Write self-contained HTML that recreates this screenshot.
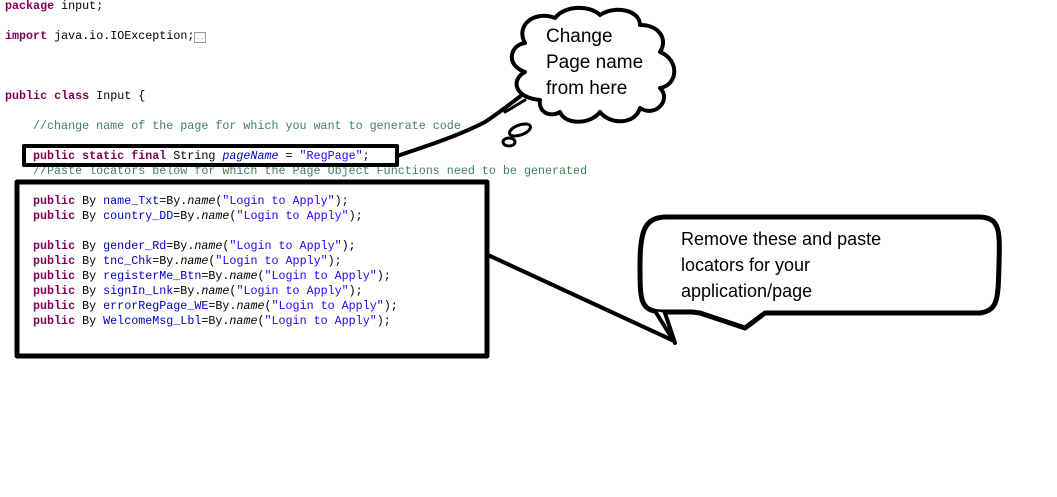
<!DOCTYPE html>
<html><head><meta charset="utf-8"><style>
body{margin:0;width:1057px;height:497px;background:#fff;overflow:hidden;position:relative}
.c{position:absolute;font-family:"Liberation Mono",monospace;font-size:11.7px;white-space:pre;line-height:15px;color:#000}
.k{color:#7f0055;font-weight:bold}.s{color:#2a00ff}.f{color:#0000c0}.i{font-style:italic}.cm{color:#3f7f5f}
.t{position:absolute;font-family:"Liberation Sans",sans-serif;font-size:18px;line-height:26px;color:#000}
</style></head><body>
<div class="c" style="left:5px;top:-1px"><span class="k">package</span> input;</div>
<div class="c" style="left:5px;top:29px"><span class="k">import</span> java.io.IOException;<span style="border:1px solid #999;color:#999;font-size:8px">..</span></div>
<div class="c" style="left:5px;top:89px"><span class="k">public class</span> Input {</div>
<div class="c cm" style="left:33px;top:119px">//change name of the page for which you want to generate code</div>
<div class="c" style="left:33px;top:149px"><span class="k">public static final</span> String <span class="f i">pageName</span> = <span class="s">"RegPage"</span>;</div>
<div class="c cm" style="left:33px;top:164px">//Paste locators below for which the Page Object Functions need to be generated</div>
<div class="c" style="left:33px;top:194px"><span class="k">public</span> By <span class="f">name_Txt</span>=By.<span class="i">name</span>(<span class="s">"Login to Apply"</span>);
<span class="k">public</span> By <span class="f">country_DD</span>=By.<span class="i">name</span>(<span class="s">"Login to Apply"</span>);

<span class="k">public</span> By <span class="f">gender_Rd</span>=By.<span class="i">name</span>(<span class="s">"Login to Apply"</span>);
<span class="k">public</span> By <span class="f">tnc_Chk</span>=By.<span class="i">name</span>(<span class="s">"Login to Apply"</span>);
<span class="k">public</span> By <span class="f">registerMe_Btn</span>=By.<span class="i">name</span>(<span class="s">"Login to Apply"</span>);
<span class="k">public</span> By <span class="f">signIn_Lnk</span>=By.<span class="i">name</span>(<span class="s">"Login to Apply"</span>);
<span class="k">public</span> By <span class="f">errorRegPage_WE</span>=By.<span class="i">name</span>(<span class="s">"Login to Apply"</span>);
<span class="k">public</span> By <span class="f">WelcomeMsg_Lbl</span>=By.<span class="i">name</span>(<span class="s">"Login to Apply"</span>);</div>
<svg width="1057" height="497" style="position:absolute;left:0;top:0" fill="none" stroke="#000" stroke-linecap="round" stroke-linejoin="round">
<rect x="24" y="146" width="373" height="19" stroke-width="4"/>
<rect x="17" y="182" width="470" height="174" stroke-width="5"/>
<path d="M397 156 C430 145 460 135 485 122 C500 112 510 104 522 95" stroke-width="4"/>
<path d="M525 100 L505 112" stroke-width="3"/>
<path d="M540 100 C515 98 510 80 525 72 C505 65 510 45 525 43 C515 25 535 10 555 18 C565 5 590 5 600 15 C615 5 640 10 640 25 C660 25 668 40 660 52 C680 60 678 85 660 88 C672 100 655 118 640 108 C635 125 610 125 600 112 C590 125 565 125 560 112 C550 118 538 112 540 100 Z" stroke-width="4" fill="#fff"/>
<ellipse cx="520" cy="130" rx="11" ry="5" stroke-width="3" transform="rotate(-20 520 130)"/>
<ellipse cx="509" cy="142" rx="6" ry="4" stroke-width="3"/>
<path d="M488 255 L672 340" stroke-width="4"/>
<path d="M660 312 C640 310 640 300 640 265 C640 230 645 218 665 217 L980 217 C1000 218 1000 230 999 265 C998 300 998 310 980 313 L765 313 L745 328 L700 313 L692 312 Z" stroke-width="5" fill="#fff"/>
<path d="M655 311 L675 343 L665 313" stroke-width="4" fill="#fff"/>
</svg>
<div class="t" style="left:546px;top:24px;font-size:19px;line-height:26px">Change<br>Page name<br>from here</div>
<div class="t" style="left:681px;top:226px">Remove these and paste<br>locators for your<br>application/page</div>
</body></html>
